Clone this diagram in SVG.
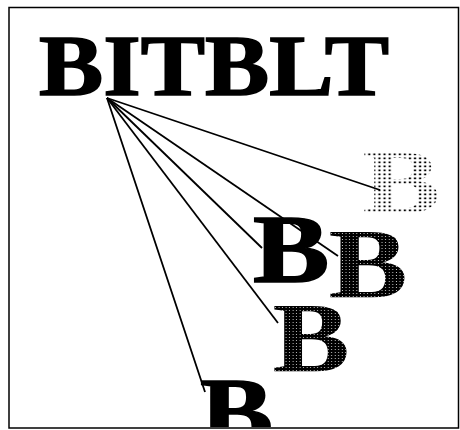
<svg xmlns="http://www.w3.org/2000/svg" width="460" height="430" viewBox="0 0 460 430">
  <style>
    .t { font-family: "Liberation Serif", "Times New Roman", serif; font-weight: bold; }
    .heavy { stroke: #000; stroke-width: 1.6; stroke-linejoin: miter; }
    .conn line { stroke: #000; stroke-width: 1.8; fill: none; }
  </style>
  <defs>
    <pattern id="sparse" width="4" height="4" patternUnits="userSpaceOnUse">
      <rect x="0.5" y="0.5" width="1.7" height="1.7" fill="#000"/>
    </pattern>
    <pattern id="dense" width="3" height="3" patternUnits="userSpaceOnUse">
      <rect width="3" height="3" fill="#000"/>
      <rect x="2.2" y="2.2" width="0.8" height="0.8" fill="#fff"/>
    </pattern>
    <clipPath id="frameclip">
      <rect x="9" y="8" width="449" height="419"/>
    </clipPath>
  </defs>
  <rect width="460" height="430" fill="#fff"/>
  <rect x="9" y="7.5" width="449.5" height="420.5" fill="none" stroke="#000" stroke-width="1.5"/>

  <g class="conn" id="connectors">
    <line x1="107" y1="98" x2="380" y2="190"/>
    <line x1="107" y1="98" x2="338" y2="256"/>
    <line x1="107" y1="98" x2="262" y2="248"/>
    <line x1="107" y1="98" x2="278" y2="323"/>
    <line x1="107" y1="98" x2="205" y2="392"/>
  </g>

  <g id="title">
    <text class="t heavy" x="39" y="94.5" font-size="87" textLength="350" lengthAdjust="spacingAndGlyphs" fill="#000">BITBLT</text>
  </g>

  <g id="b-gray">
    <text class="t" transform="translate(362.5,213) scale(1.27,1)" font-size="92" fill="url(#sparse)">B</text>
  </g>
  <g id="b-big">
    <text class="t heavy" transform="translate(253,281.5) scale(1.18,1)" font-size="97" fill="#000">B</text>
  </g>
  <g id="b-mid">
    <text class="t" transform="translate(328.5,297) scale(1.2,1)" font-size="99" fill="url(#dense)">B</text>
  </g>
  <g id="b-low">
    <text class="t" transform="translate(272.5,371) scale(1.17,1)" font-size="99" fill="url(#dense)">B</text>
  </g>
  <g id="b-bottom" clip-path="url(#frameclip)">
    <text class="t heavy" transform="translate(200,445) scale(1.13,1)" font-size="97" fill="#000">B</text>
  </g>
</svg>
